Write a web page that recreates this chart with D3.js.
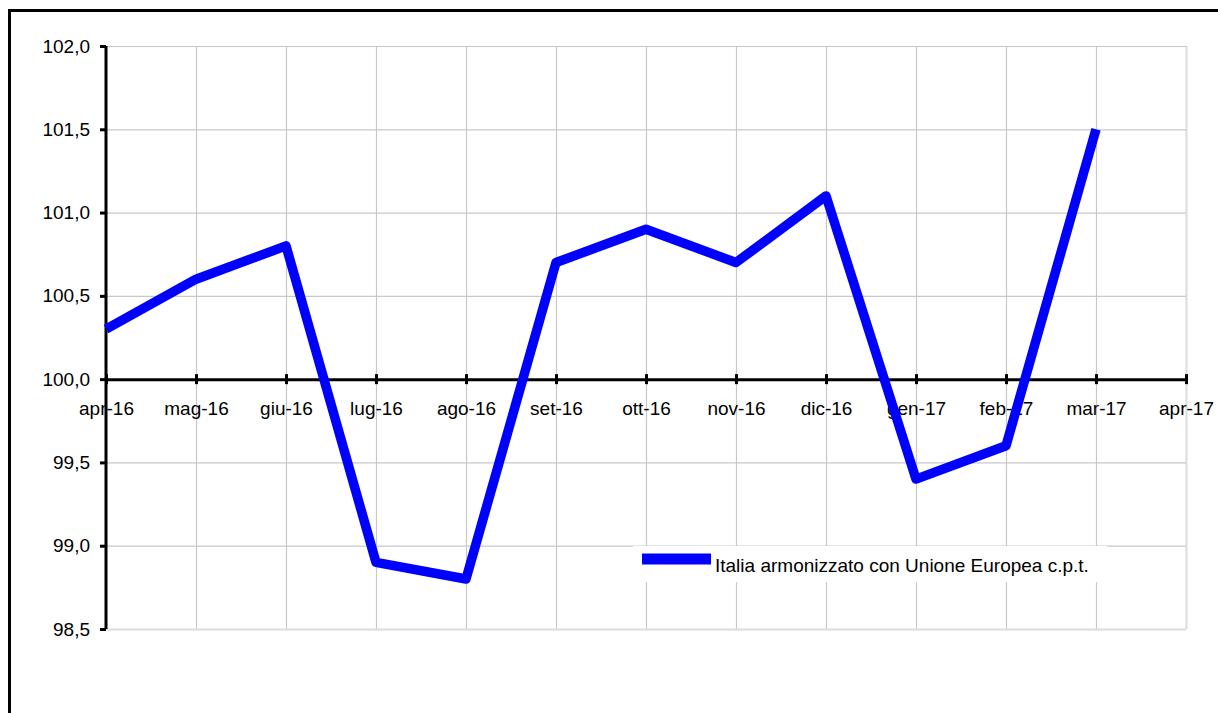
<!DOCTYPE html>
<html><head><meta charset="utf-8">
<script src="https://cdn.jsdelivr.net/npm/d3@7/dist/d3.min.js"></script>
<style>body{margin:0;background:#fff}svg{display:block}text{font-family:"Liberation Sans",Arial,sans-serif}</style>
</head><body>
<svg id="c" width="1218" height="713"></svg>
<script>
const months = ["apr-16","mag-16","giu-16","lug-16","ago-16","set-16","ott-16","nov-16","dic-16","gen-17","feb-17","mar-17","apr-17"];
const values = [100.3,100.6,100.8,98.9,98.8,100.7,100.9,100.7,101.1,99.4,99.6,101.5];
const yTicks = [98.5,99.0,99.5,100.0,100.5,101.0,101.5,102.0];
const seriesName = "Italia armonizzato con Unione Europea c.p.t.";

const svg = d3.select("#c");
// outer frame
svg.append("path").attr("d","M9.5,713 V10.5 H1218").attr("fill","none").attr("stroke","#000").attr("stroke-width",3);

const x = d3.scalePoint().domain(months).range([106,1186]);
const y = d3.scaleLinear().domain([98.5,102]).range([629,46]);

// grid
const g = svg.append("g");
g.selectAll("line.v").data(months.slice(1)).join("line")
 .attr("x1",d=>x(d)+0.5).attr("x2",d=>x(d)+0.5).attr("y1",y(102)).attr("y2",y(98.5))
 .attr("stroke",(d,i)=>i===months.length-2?"#dcdcdc":"#c8c8c8").attr("stroke-width",(d,i)=>i===months.length-2?2:1.2);
g.selectAll("line.h").data(yTicks).join("line")
 .attr("x1",106).attr("x2",1186).attr("y1",d=>y(d)+0.5).attr("y2",d=>y(d)+0.5)
 .attr("stroke",d=>d===98.5?"#dcdcdc":"#c8c8c8").attr("stroke-width",d=>d===98.5?2:1.2);

// y axis
const yAxis = d3.axisLeft(y).tickValues(yTicks).tickSize(6).tickPadding(10)
 .tickFormat(d=>d3.format(".1f")(d).replace(".",","));
const ya = svg.append("g").attr("transform","translate(106,0)").call(yAxis);
ya.select(".domain").attr("stroke","#000").attr("stroke-width",3).attr("d",`M0,${y(98.5)}V${y(102)}`);
ya.selectAll(".tick line").attr("stroke","#000").attr("stroke-width",3).attr("x2",-6);
ya.selectAll(".tick text").attr("font-size",19).attr("fill","#000").attr("x",-16);

// x axis at 100
const xAxis = d3.axisBottom(x).tickSize(0).tickPadding(0);
const xa = svg.append("g").attr("transform",`translate(0,${y(100)})`).call(xAxis);
xa.select(".domain").attr("stroke","#000").attr("stroke-width",3);
xa.selectAll(".tick line").attr("stroke","#000").attr("stroke-width",3).attr("y1",-5).attr("y2",5);
xa.selectAll(".tick text").attr("font-size",19).attr("fill","#000").attr("dy",0).attr("y",36);

// line
const line = d3.line().x((d,i)=>x(months[i])).y(d=>y(d));
svg.append("path").datum(values).attr("d",line).attr("fill","none")
 .attr("stroke","#0000ff").attr("stroke-width",9.5).attr("stroke-linejoin","round").attr("stroke-linecap","butt");

// legend
const lg = svg.append("g");
lg.append("rect").attr("x",633).attr("y",546).attr("width",474).attr("height",36).attr("fill","#fff");
lg.append("line").attr("x1",642).attr("x2",711).attr("y1",559).attr("y2",559).attr("stroke","#0000ff").attr("stroke-width",11);
lg.append("text").attr("x",715).attr("y",572).attr("font-size",19).attr("fill","#000").text(seriesName);
</script>
</body></html>
